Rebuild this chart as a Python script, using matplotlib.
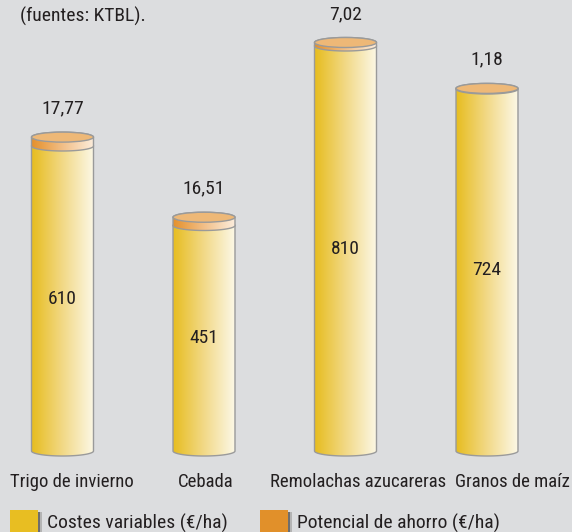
import numpy as np
import matplotlib
matplotlib.use('Agg')
import matplotlib.pyplot as plt
from matplotlib.path import Path
from matplotlib.patches import PathPatch, Ellipse, Rectangle
from matplotlib.colors import LinearSegmentedColormap
from matplotlib import transforms

# datos (fuentes: KTBL)
cultivos = ['Trigo de invierno', 'Cebada', 'Remolachas azucareras', 'Granos de maíz']
costes = [610, 451, 810, 724]            # costes variables (€/ha)
ahorro = [17.77, 16.51, 7.02, 1.18]      # potencial de ahorro (€/ha)
ahorro_txt = ['17,77', '16,51', '7,02', '1,18']
leyenda = ['Costes variables (€/ha)', 'Potencial de ahorro (€/ha)']

plt.rcParams['font.family'] = ['Roboto Condensed', 'Liberation Sans Narrow', 'Lato', 'DejaVu Sans']
plt.rcParams['font.stretch'] = 'condensed'
fs = 14

fondo = '#DCDDDF'
texto = '#231F20'
borde = '#9A9A9A'
cmap_cuerpo = LinearSegmentedColormap.from_list('c', ['#E7BD20', '#F2D987', '#FCF8E6'])
cmap_tapa = LinearSegmentedColormap.from_list('a', ['#E5912C', '#F2BF88', '#FCEDDC'])
tapa_sup = '#EEB877'

W, H = 572, 532
fig = plt.figure(figsize=(W / 100, H / 100), dpi=100)
fig.patch.set_facecolor(fondo)
# 0,5 px por unidad; el cero queda en y=451 px
ax = fig.add_axes([0, 61 / H, 1, 470 / H])
ax.set_facecolor(fondo)
paso = 141.5
xlim = (-62.5 / paso, (W - 62.5) / paso)
ylim = (-40, 900)

ancho = 0.438   # ancho del cilindro (unidades de categoria)
ry = 10         # semieje vertical de la elipse (unidades de datos)


def cilindro(xc, y0, y1):
    t = np.linspace(np.pi, 2 * np.pi, 60)
    bx = xc + ancho / 2 * np.cos(t)
    by = y0 + ry * np.sin(t)
    t2 = np.linspace(0, np.pi, 60)
    tx = xc + ancho / 2 * np.cos(t2)
    ty = y1 + ry * np.sin(t2)
    v = np.concatenate([np.column_stack([bx, by]), np.column_stack([tx, ty]), [[bx[0], by[0]]]])
    codes = [Path.MOVETO] + [Path.LINETO] * (len(v) - 2) + [Path.CLOSEPOLY]
    return Path(v, codes)


grad = np.linspace(0, 1, 256).reshape(1, -1)
for i, (c, s) in enumerate(zip(costes, ahorro)):
    x0, x1 = i - ancho / 2, i + ancho / 2
    # cuerpo
    p = PathPatch(cilindro(i, 0, c), facecolor='none', edgecolor=borde, lw=1, zorder=2)
    ax.add_patch(p)
    im = ax.imshow(grad, cmap=cmap_cuerpo, extent=[x0, x1, -ry - 2, c + ry + 2],
                   aspect='auto', zorder=1, interpolation='bilinear')
    im.set_clip_path(p)
    # tapa (potencial de ahorro)
    q = PathPatch(cilindro(i, c, c + s), facecolor='none', edgecolor=borde, lw=1, zorder=4)
    ax.add_patch(q)
    im2 = ax.imshow(grad, cmap=cmap_tapa, extent=[x0, x1, c - ry - 2, c + s + ry + 2],
                    aspect='auto', zorder=3, interpolation='bilinear')
    im2.set_clip_path(q)
    ax.add_patch(Ellipse((i, c + s), ancho, 2 * ry, facecolor=tapa_sup,
                         edgecolor=borde, lw=1, zorder=5))
    # etiquetas
    ax.text(i, c / 2, str(c), ha='center', va='center', fontsize=fs, color=texto, zorder=6)
    ax.annotate(ahorro_txt[i], (i, c + s + ry), xytext=(0, 17), textcoords='offset points',
                ha='center', va='center', fontsize=fs, color=texto)

ax.set_xlim(*xlim)
ax.set_ylim(*ylim)
ax.axis('off')

# nombres de cultivos
desp = [0.067, 0.014, 0.088, 0.183]
tr = transforms.blended_transform_factory(ax.transData, fig.transFigure)
for i, nombre in enumerate(cultivos):
    ax.text(i + desp[i], 1 - 487 / H, nombre, transform=tr, ha='center', va='baseline',
            fontsize=13.5, color=texto, clip_on=False)

fig.text(20 / W, 1 - 22 / H, '(fuentes: KTBL).', ha='left', va='baseline',
         fontsize=fs, color=texto)

# leyenda
colores_ley = ['#E8BE22', '#E1902A']
x_ley = [10, 260]
for k in range(2):
    xl = x_ley[k]
    fig.patches.append(Rectangle((xl / W, 0), 28 / W, 22 / H, transform=fig.transFigure,
                                 facecolor=colores_ley[k], edgecolor='none'))
    fig.patches.append(Rectangle(((xl + 28) / W, 0), 2 / W, 20 / H, transform=fig.transFigure,
                                 facecolor='#6E6E6E', edgecolor='none'))
    fig.patches.append(Rectangle(((xl + 30) / W, 0), 2 / W, 20 / H, transform=fig.transFigure,
                                 facecolor='#B4B4B4', edgecolor='none'))
    fig.text((xl + 37) / W, 1 - 529 / H, leyenda[k], ha='left', va='baseline',
             fontsize=fs, color=texto)

fig.savefig('out.png', dpi=100, facecolor=fondo)
